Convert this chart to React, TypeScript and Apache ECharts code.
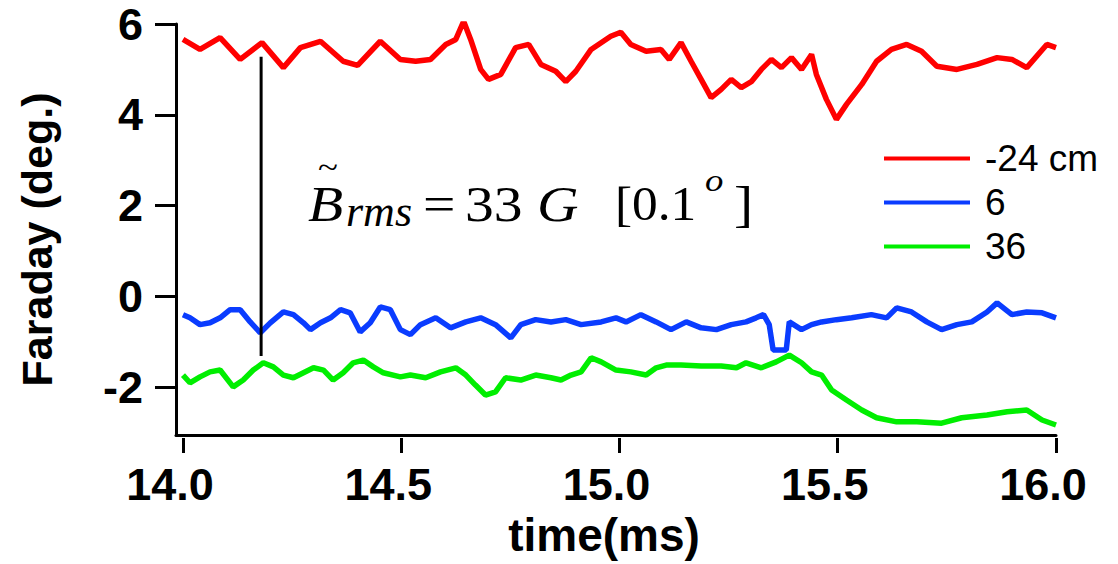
import React, { useEffect, useRef } from "react";
import * as echarts from "echarts";

const seriesNames = ["-24 cm", "6", "36"];
const seriesColors = ["#ff0000", "#0a3cff", "#00ee00"];

const redT = [14.0, 14.039, 14.085, 14.131, 14.181, 14.23, 14.269, 14.315, 14.367, 14.4, 14.452, 14.498, 14.533, 14.567, 14.602, 14.625, 14.643, 14.659, 14.682, 14.7, 14.728, 14.762, 14.792, 14.82, 14.854, 14.877, 14.9, 14.935, 14.98, 15.003, 15.026, 15.061, 15.095, 15.114, 15.141, 15.164, 15.187, 15.21, 15.233, 15.256, 15.279, 15.302, 15.325, 15.348, 15.371, 15.394, 15.417, 15.44, 15.451, 15.474, 15.497, 15.52, 15.555, 15.589, 15.623, 15.658, 15.692, 15.727, 15.773, 15.819, 15.865, 15.899, 15.933, 15.979, 16.0];
const redV = [5.66, 5.44, 5.7, 5.22, 5.59, 5.04, 5.48, 5.62, 5.18, 5.09, 5.62, 5.22, 5.18, 5.22, 5.55, 5.66, 6.06, 5.66, 5.0, 4.78, 4.89, 5.48, 5.55, 5.11, 4.96, 4.73, 4.96, 5.44, 5.73, 5.82, 5.55, 5.4, 5.44, 5.22, 5.59, 5.18, 4.78, 4.38, 4.56, 4.78, 4.6, 4.73, 5.0, 5.22, 5.04, 5.26, 5.0, 5.33, 4.89, 4.34, 3.9, 4.23, 4.67, 5.18, 5.44, 5.55, 5.4, 5.07, 5.0, 5.11, 5.26, 5.22, 5.04, 5.55, 5.48];

const blueT = [14.0, 14.016, 14.039, 14.062, 14.085, 14.108, 14.131, 14.154, 14.177, 14.2, 14.23, 14.253, 14.276, 14.292, 14.315, 14.338, 14.361, 14.383, 14.406, 14.429, 14.452, 14.475, 14.498, 14.521, 14.544, 14.579, 14.613, 14.648, 14.682, 14.716, 14.751, 14.774, 14.808, 14.843, 14.877, 14.912, 14.958, 14.992, 15.015, 15.049, 15.084, 15.118, 15.153, 15.187, 15.222, 15.256, 15.29, 15.313, 15.33, 15.343, 15.352, 15.382, 15.389, 15.417, 15.44, 15.463, 15.497, 15.532, 15.577, 15.612, 15.635, 15.669, 15.704, 15.738, 15.773, 15.807, 15.842, 15.865, 15.899, 15.933, 15.968, 16.0];
const blueV = [-0.4, -0.47, -0.62, -0.58, -0.47, -0.29, -0.29, -0.56, -0.8, -0.58, -0.34, -0.4, -0.58, -0.73, -0.58, -0.47, -0.29, -0.36, -0.78, -0.58, -0.23, -0.29, -0.73, -0.84, -0.62, -0.47, -0.69, -0.56, -0.47, -0.62, -0.91, -0.62, -0.51, -0.56, -0.51, -0.62, -0.56, -0.47, -0.56, -0.4, -0.56, -0.73, -0.56, -0.69, -0.73, -0.62, -0.56, -0.47, -0.4, -0.62, -1.18, -1.18, -0.56, -0.73, -0.62, -0.56, -0.51, -0.47, -0.4, -0.47, -0.25, -0.34, -0.56, -0.73, -0.62, -0.56, -0.34, -0.14, -0.4, -0.34, -0.36, -0.47];

const greenT = [14.0, 14.016, 14.039, 14.062, 14.085, 14.115, 14.138, 14.161, 14.184, 14.207, 14.23, 14.253, 14.276, 14.299, 14.322, 14.344, 14.367, 14.39, 14.413, 14.436, 14.459, 14.498, 14.521, 14.556, 14.59, 14.625, 14.648, 14.67, 14.693, 14.716, 14.739, 14.774, 14.808, 14.843, 14.866, 14.889, 14.912, 14.935, 14.958, 14.992, 15.026, 15.061, 15.084, 15.107, 15.141, 15.187, 15.233, 15.268, 15.29, 15.325, 15.359, 15.389, 15.417, 15.44, 15.463, 15.486, 15.52, 15.555, 15.589, 15.635, 15.681, 15.738, 15.784, 15.842, 15.888, 15.933, 15.968, 16.0];
const greenV = [-1.73, -1.9, -1.77, -1.66, -1.62, -1.99, -1.84, -1.62, -1.46, -1.55, -1.73, -1.79, -1.68, -1.57, -1.62, -1.84, -1.68, -1.46, -1.4, -1.55, -1.68, -1.77, -1.73, -1.79, -1.66, -1.57, -1.73, -1.95, -2.17, -2.1, -1.79, -1.84, -1.73, -1.79, -1.84, -1.73, -1.66, -1.35, -1.44, -1.62, -1.66, -1.73, -1.57, -1.51, -1.51, -1.53, -1.53, -1.57, -1.46, -1.57, -1.44, -1.29, -1.46, -1.66, -1.73, -2.06, -2.28, -2.5, -2.67, -2.76, -2.76, -2.79, -2.67, -2.61, -2.54, -2.5, -2.72, -2.83];

const markerT = [14.179, 14.179];
const markerV = [5.28, -1.31];

const xTicks = [14, 14.5, 15, 15.5, 16];
const yTicks = [-2, 0, 2, 4, 6];

const X_MIN = 13.984;
const X_MAX = 16;
const Y_MIN = -3.05;
const Y_MAX = 6;

const SANS = "'Liberation Sans', Arial, Helvetica, sans-serif";
const SERIF = "'Liberation Serif', 'Times New Roman', serif";

function pairs(t: number[], v: number[]) {
  return t.map((x, i) => [x, v[i]]);
}

export default function App() {
  const ref = useRef<HTMLDivElement>(null);
  useEffect(() => {
    if (!ref.current) return;
    const chart = echarts.init(ref.current, null, { renderer: "svg" });
    const dataSets = [pairs(redT, redV), pairs(blueT, blueV), pairs(greenT, greenV)];
    const serif = (
      text: string,
      x: number,
      y: number,
      size: number,
      italic: boolean,
      sx = 1.15,
      lh?: number
    ) => ({
      type: "text",
      x,
      y,
      scaleX: sx,
      silent: true,
      style: {
        text,
        fill: "#000",
        font: `${italic ? "italic " : ""}${size}px ${SERIF}`,
        textAlign: "left",
        textVerticalAlign: "middle",
        verticalAlign: "middle",
        ...(lh ? { lineHeight: lh } : {}),
      },
    });
    chart.setOption({
      animation: false,
      backgroundColor: "#ffffff",
      grid: { left: 176, top: 24, width: 880, height: 411, containLabel: false },
      legend: {
        data: seriesNames,
        orient: "vertical",
        left: 879,
        top: 135,
        icon: "rect",
        itemWidth: 86,
        itemHeight: 4,
        itemGap: 7,
        textStyle: { fontSize: 37, color: "#000", fontFamily: SANS, padding: [0, 0, 0, 10] },
      },
      xAxis: [
        {
          type: "value",
          min: X_MIN,
          max: X_MAX,
          axisLine: { show: true, onZero: false, lineStyle: { color: "#000", width: 3 } },
          axisTick: { show: false },
          axisLabel: { show: false },
          splitLine: { show: false },
        },
        {
          type: "value",
          min: X_MIN,
          max: X_MAX,
          position: "bottom",
          offset: 3,
          axisLine: { show: false, onZero: false },
          axisTick: {
            show: true,
            length: 15,
            customValues: xTicks,
            lineStyle: { color: "#000", width: 3 },
          },
          axisLabel: {
            show: true,
            customValues: xTicks,
            formatter: (v: number) => v.toFixed(1),
            fontSize: 45,
            fontWeight: "bold",
            fontFamily: SANS,
            color: "#000",
            margin: 24,
            padding: [0, 26, 0, 0],
          },
          splitLine: { show: false },
          name: "time(ms)",
          nameLocation: "middle",
          nameGap: 73,
          nameTextStyle: {
            fontSize: 46,
            fontWeight: "bold",
            fontFamily: SANS,
            color: "#000",
            padding: [0, 24, 0, 0],
          },
        },
      ],
      yAxis: {
        type: "value",
        min: Y_MIN,
        max: Y_MAX,
        axisLine: { show: true, onZero: false, lineStyle: { color: "#000", width: 3 } },
        axisTick: {
          show: true,
          length: 21,
          customValues: yTicks,
          lineStyle: { color: "#000", width: 3 },
        },
        axisLabel: {
          show: true,
          customValues: yTicks,
          fontSize: 45,
          fontWeight: "bold",
          fontFamily: SANS,
          color: "#000",
          margin: 33,
        },
        splitLine: { show: false },
        name: "Faraday (deg.)",
        nameLocation: "middle",
        nameRotate: 90,
        nameGap: 118,
        nameTextStyle: {
          fontSize: 43,
          fontWeight: "bold",
          fontFamily: SANS,
          color: "#000",
          padding: [0, 20, 0, 0],
        },
      },
      series: [
        ...seriesNames.map((name, i) => ({
          name,
          type: "line",
          xAxisIndex: 0,
          data: dataSets[i],
          showSymbol: false,
          symbol: "none",
          lineStyle: { color: seriesColors[i], width: 5.5 },
          itemStyle: { color: seriesColors[i] },
          z: 2,
        })),
        {
          name: "marker",
          type: "line",
          xAxisIndex: 0,
          data: pairs(markerT, markerV),
          symbol: "none",
          lineStyle: { color: "#000", width: 3 },
          silent: true,
          z: 3,
        },
      ],
      graphic: [
        serif("~", 318, 167, 32, false, 1.15, 14),
        serif("B", 308, 204, 50, true),
        serif("rms", 346, 211, 44, true, 1.0),
        serif("=", 423, 204, 50, false),
        serif("33", 465, 204, 50, false),
        serif("G", 537, 204, 50, true),
        serif("[0.1", 615, 204, 48, false, 1.07),
        serif("o", 705, 180, 32, true),
        serif("]", 734, 204, 50, false),
      ],
    });
    return () => chart.dispose();
  }, []);
  return (
    <div
      ref={ref}
      style={{ position: "absolute", left: 0, top: 0, width: 1118, height: 564 }}
    />
  );
}
